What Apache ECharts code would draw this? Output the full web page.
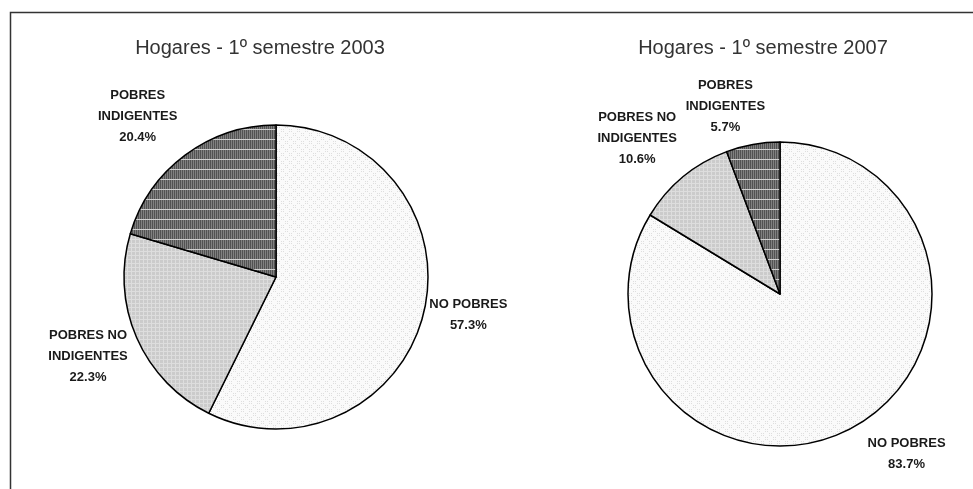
<!DOCTYPE html>
<html>
<head>
<meta charset="utf-8">
<script src="https://cdn.jsdelivr.net/npm/echarts@6/dist/echarts.min.js"></script>
<style>
  html, body { margin: 0; padding: 0; background: #fff; }
  #main { width: 973px; height: 489px; }
</style>
</head>
<body>
<div id="main"></div>
<script>
// data
var categories = ['NO POBRES', 'POBRES NO INDIGENTES', 'POBRES INDIGENTES'];
var labelNames = ['NO POBRES', 'POBRES NO\nINDIGENTES', 'POBRES\nINDIGENTES'];
var titles = ['Hogares - 1º semestre 2003', 'Hogares - 1º semestre 2007'];
var values2003 = [57.3, 22.3, 20.4];
var values2007 = [83.7, 10.6, 5.7];

// label placement tweaks (angle nudge in degrees, distance from centre in px)
var labelNudge = [[-2, 0.7, -4], [-9, -3, -6]];
var labelDist = [[196, 204, 212], [204, 211, 195]];
var centers = [[276, 277], [780, 294]];
var radius = 152;

function makePattern(w, h, draw) {
    var c = document.createElement('canvas');
    c.width = w; c.height = h;
    draw(c.getContext('2d'));
    return { image: c, repeat: 'repeat' };
}

var dotFill = makePattern(8, 8, function (ctx) {
    ctx.fillStyle = '#fafafa'; ctx.fillRect(0, 0, 8, 8);
    ctx.fillStyle = '#dedede';
    [[1, 1], [3, 1], [1, 3], [3, 3], [5, 5], [7, 5], [5, 7], [7, 7]].forEach(function (p) {
        ctx.fillRect(p[0], p[1], 1, 1);
    });
});
var gridFill = makePattern(8, 8, function (ctx) {
    ctx.fillStyle = '#cbcbcb'; ctx.fillRect(0, 0, 8, 8);
    ctx.fillStyle = '#dddddd';
    ctx.fillRect(3, 0, 1, 8); ctx.fillRect(7, 0, 1, 8);
    ctx.fillRect(0, 3, 8, 1); ctx.fillRect(0, 7, 8, 1);
});
var darkFill = makePattern(4, 10, function (ctx) {
    ctx.fillStyle = '#525252'; ctx.fillRect(0, 0, 4, 10);
    ctx.fillStyle = '#808080';
    ctx.fillRect(1, 0, 1, 10); ctx.fillRect(3, 0, 1, 10);
    ctx.fillStyle = '#cfcfcf';
    ctx.fillRect(0, 9, 4, 1);
});
var fills = [dotFill, gridFill, darkFill];

function buildData(values) {
    return values.map(function (v, i) {
        return { name: categories[i], value: v, itemStyle: { color: fills[i] } };
    });
}

function labelLayoutFor(s, values) {
    var total = values.reduce(function (a, b) { return a + b; }, 0);
    return function (params) {
        var i = params.dataIndex;
        var before = 0;
        for (var k = 0; k < i; k++) before += values[k];
        var mid = (before + values[i] / 2) / total * 360 + labelNudge[s][i];
        var a = mid * Math.PI / 180;
        return {
            x: centers[s][0] + labelDist[s][i] * Math.sin(a),
            y: centers[s][1] - labelDist[s][i] * Math.cos(a),
            align: 'center',
            verticalAlign: 'middle'
        };
    };
}

function pieSeries(s, values) {
    return {
        type: 'pie',
        center: centers[s],
        radius: radius,
        startAngle: 90,
        clockwise: true,
        animation: false,
        silent: true,
        data: buildData(values),
        itemStyle: { borderColor: '#000', borderWidth: 1.5 },
        label: {
            show: true,
            position: 'outside',
            overflow: 'none',
            formatter: function (p) {
                return labelNames[p.dataIndex] + '\n' + p.value.toFixed(1) + '%';
            },
            fontFamily: 'Arial, "Liberation Sans", sans-serif',
            fontSize: 13,
            fontWeight: 'bold',
            color: '#1a1a1a',
            lineHeight: 21
        },
        labelLine: { show: false },
        labelLayout: labelLayoutFor(s, values),
        emphasis: { disabled: true }
    };
}

var myChart = echarts.init(document.getElementById('main'), null, { renderer: 'canvas' });

var titleStyle = { fontFamily: 'Arial, "Liberation Sans", sans-serif', fontSize: 20, fontWeight: 'normal', color: '#333' };

myChart.setOption({
    backgroundColor: '#fff',
    title: [
        { text: titles[0], left: 260, top: 38, padding: 0, textAlign: 'center', textStyle: titleStyle },
        { text: titles[1], left: 763, top: 38, padding: 0, textAlign: 'center', textStyle: titleStyle }
    ],
    graphic: [
        {
            type: 'rect',
            shape: { x: 10.5, y: 12.5, width: 1000, height: 600 },
            style: { fill: null, stroke: '#333', lineWidth: 1.5 },
            silent: true
        }
    ],
    series: [
        pieSeries(0, values2003),
        pieSeries(1, values2007)
    ]
});
</script>
</body>
</html>
